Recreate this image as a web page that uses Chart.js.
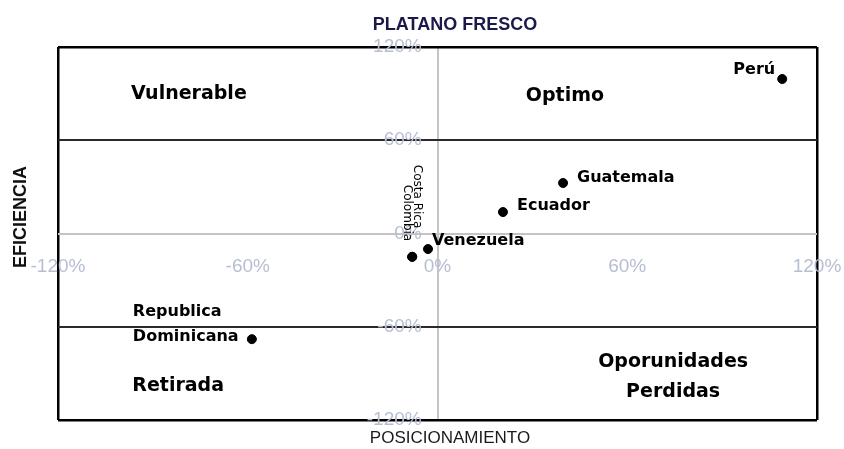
<!DOCTYPE html>
<html>
<head>
<meta charset="utf-8">
<script src="https://cdn.jsdelivr.net/npm/chart.js@4.4.0/dist/chart.umd.min.js"></script>
<style>
  html, body { margin: 0; padding: 0; background: #fff; }
  #wrap { width: 844px; height: 449px; }
</style>
</head>
<body>
<div id="wrap"><canvas id="chart" width="844" height="449"></canvas></div>
<script>
// ── Data ──
const countries       = ['Perú', 'Guatemala', 'Ecuador', 'Venezuela', 'Costa Rica', 'Colombia', 'Republica\nDominicana'];
const posicionamiento = [109, 39.7, 20.7, -3, -8, -8, -58.7];   // x, %
const eficiencia      = [99.4, 32.5, 13.8, -10, -15, -15, -68]; // y, %
const axisTicks       = [-120, -60, 0, 60, 120];

// quadrant captions (data coordinates)
const quadrantNames = ['Vulnerable', 'Optimo', 'Retirada', 'Oporunidades\nPerdidas'];
const quadrantX     = [-78.6, 40.3, -82, 74.5];
const quadrantY     = [89.8, 88.5, -98, -82.7];

// ── Label placement (pixel offsets from the point) ──
const labelPlace = [
  { dx: -7,   dy: -9,  align: 'right' },
  { dx: 14,   dy: -5,  align: 'left' },
  { dx: 14,   dy: -6,  align: 'left' },
  { dx: 4,    dy: -8,  align: 'left' },
  { dx: 5,    dy: -92, align: 'left', rotate: true },
  { dx: -5,   dy: -72, align: 'left', rotate: true },
  { dx: -119, dy: -27, align: 'left', lineGap: 25 },
];

const BOLD_FONT = 'bold 16px "DejaVu Sans"';
const QUAD_FONT = 'bold 19px "DejaVu Sans"';

const textPlugin = {
  id: 'texts',
  afterDatasetsDraw(chart) {
    const ctx = chart.ctx;
    const xs  = chart.scales.x;
    const ys  = chart.scales.y;
    ctx.save();
    ctx.fillStyle = '#000';
    ctx.textBaseline = 'middle';

    // country labels
    countries.forEach(function(name, i) {
      const px = xs.getPixelForValue(posicionamiento[i]);
      const py = ys.getPixelForValue(eficiencia[i]);
      const p  = labelPlace[i];
      ctx.textAlign = p.align;
      if (p.rotate) {
        ctx.save();
        ctx.font = '12px "DejaVu Sans"';
        ctx.translate(px + p.dx, py + p.dy);
        ctx.rotate(Math.PI / 2);
        ctx.fillText(name, 0, 0);
        ctx.restore();
        return;
      }
      ctx.font = BOLD_FONT;
      name.split('\n').forEach(function(line, k) {
        ctx.fillText(line, px + p.dx, py + p.dy + k * (p.lineGap || 0));
      });
    });

    // quadrant captions
    ctx.font = QUAD_FONT;
    ctx.textAlign = 'center';
    quadrantNames.forEach(function(name, i) {
      const px = xs.getPixelForValue(quadrantX[i]);
      const py = ys.getPixelForValue(quadrantY[i]);
      name.split('\n').forEach(function(line, k) {
        ctx.fillText(line, px, py + k * 30);
      });
    });

    // titles
    ctx.fillStyle = '#1a1a4a';
    ctx.font = 'bold 18px "Liberation Sans"';
    ctx.fillText('PLATANO FRESCO', 455, 25);
    ctx.fillStyle = '#1a1a1a';
    ctx.font = '17px "Liberation Sans"';
    ctx.fillText('POSICIONAMIENTO', 450, 438);
    ctx.save();
    ctx.translate(21, 217);
    ctx.rotate(-Math.PI / 2);
    ctx.font = 'bold 18px "Liberation Sans"';
    ctx.fillStyle = '#111';
    ctx.fillText('EFICIENCIA', 0, 0);
    ctx.restore();

    ctx.restore();
  }
};

// ── Grid colour per tick value ──
function lineColor(value) {
  if (Math.abs(value) === 120) return '#000';
  if (value === 0) return '#c4c4c4';
  return '#2a2a2a';
}

// centred axes should not push the plot area in
function noPadding(scale) {
  scale.paddingLeft = 0;
  scale.paddingRight = 0;
  scale.paddingTop = 0;
  scale.paddingBottom = 0;
}

const tickFont  = { family: '"Liberation Sans"', size: 19 };
const tickColor = '#b6bed2';

new Chart(document.getElementById('chart'), {
  type : 'scatter',
  data : {
    datasets : [{
      data            : posicionamiento.map(function(v, i) { return { x: v, y: eficiencia[i] }; }),
      backgroundColor : '#000',
      borderColor     : '#000',
      pointRadius     : 4.5,
      pointHoverRadius: 4.5,
    }],
  },
  options : {
    responsive : false,
    animation  : false,
    devicePixelRatio : 1,
    layout : { padding: { left: 58, top: 47, right: 27, bottom: 29 } },
    plugins : {
      legend  : { display: false },
      tooltip : { enabled: false },
    },
    scales : {
      x : {
        type     : 'linear',
        min      : -120,
        max      : 120,
        position : { y: 0 },
        afterBuildTicks: function(scale) { scale.ticks = axisTicks.map(function(v) { return { value: v }; }); },
        afterFit : noPadding,
        border   : { display: false },
        grid     : {
          drawTicks : false,
          lineWidth : function(c) { return Math.abs(c.tick.value) === 120 ? 2.5 : (c.tick.value === 0 ? 2 : 0); },
          color     : function(c) { return lineColor(c.tick.value); },
        },
        ticks : {
          padding  : 22,
          font     : tickFont,
          color    : tickColor,
          callback : function(v) { return v + '%'; },
        },
      },
      y : {
        type     : 'linear',
        min      : -120,
        max      : 120,
        position : { x: 0 },
        afterBuildTicks: function(scale) { scale.ticks = axisTicks.map(function(v) { return { value: v }; }); },
        afterFit : noPadding,
        border   : { display: false },
        grid     : {
          drawTicks : false,
          lineWidth : function(c) { return Math.abs(c.tick.value) === 120 ? 2.5 : 2; },
          color     : function(c) { return lineColor(c.tick.value); },
        },
        ticks : {
          font     : tickFont,
          color    : tickColor,
          callback : function(v) { return v + '%   '; },
        },
      },
    },
  },
  plugins : [textPlugin],
});
</script>
</body>
</html>
